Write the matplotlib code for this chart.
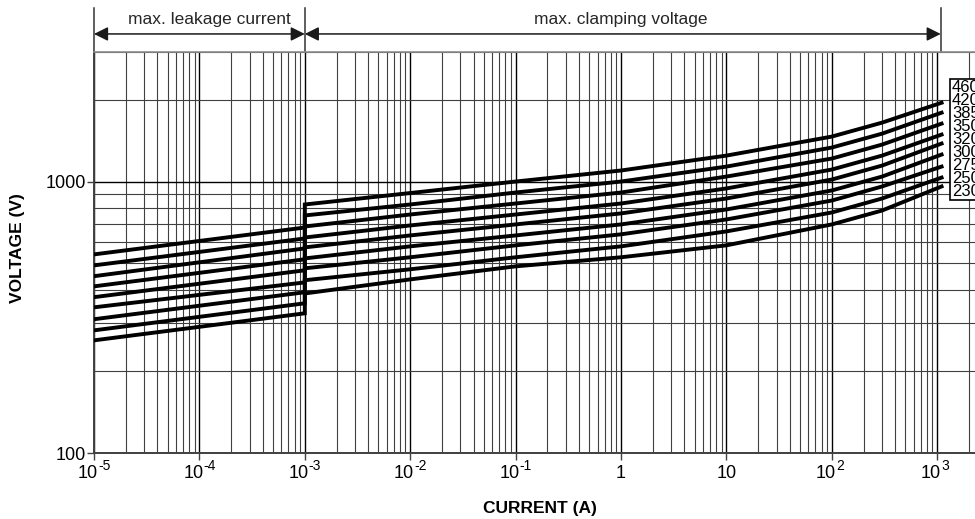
import numpy as np
import matplotlib as mpl
mpl.use("Agg")
import matplotlib.pyplot as plt
import matplotlib.transforms as mtrans
from matplotlib.patches import Rectangle

mpl.rcParams.update({
    "font.family": ["Liberation Sans", "DejaVu Sans"],
    "font.size": 12,
})

# varistor ratings, top curve first
RATINGS = ["460", "420", "385", "350", "320", "300", "275", "250", "230"]

# leakage region: 1e-5 A .. 1e-3 A
I_LEAK = [1e-5, 1e-3]
V_LEAK_START = [539, 491, 448, 411, 375, 344, 311, 283, 260]
V_LEAK_END = [677, 617, 567, 517, 471, 425, 391, 356, 327]

# clamping region
I_CLAMP = [1e-3, 1e-2, 1e-1, 1, 10, 100, 300, 1100]
V_CLAMP_460 = [823, 907, 1000, 1098, 1246, 1464, 1648, 1951]
V_CLAMP_420 = [750, 823, 911, 1000, 1135, 1334, 1501, 1793]
V_CLAMP_385 = [683, 756, 830, 911, 1043, 1215, 1368, 1634]
V_CLAMP_350 = [622, 689, 756, 830, 943, 1107, 1246, 1489]
V_CLAMP_320 = [572, 633, 695, 763, 866, 1017, 1145, 1380]
V_CLAMP_300 = [521, 577, 633, 695, 789, 927, 1043, 1257]
V_CLAMP_275 = [479, 526, 582, 639, 725, 851, 959, 1135]
V_CLAMP_250 = [433, 475, 526, 577, 655, 769, 866, 1034]
V_CLAMP_230 = [387, 436, 487, 526, 582, 695, 782, 959]
V_CLAMP = [V_CLAMP_460, V_CLAMP_420, V_CLAMP_385, V_CLAMP_350, V_CLAMP_320,
           V_CLAMP_300, V_CLAMP_275, V_CLAMP_250, V_CLAMP_230]

XTICKS = [1e-5, 1e-4, 1e-3, 1e-2, 1e-1, 1, 10, 1e2, 1e3]
XTICK_BASE = ["10", "10", "10", "10", "10", "1", "10", "10", "10"]
XTICK_EXP = ["-5", "-4", "-3", "-2", "-1", "", "", "2", "3"]
BOUNDS = [1e-5, 1e-3, 1.08e3]

W, H = 975, 519
fig = plt.figure(figsize=(W / 100, H / 100), dpi=100)
# axes run a little past the right edge of the picture (cropped original)
ax = fig.add_axes([94 / W, (H - 453) / H, (1010 - 94) / W, (453 - 52) / H])
ax.set_xscale("log"); ax.set_yscale("log")
ax.set_xlim(1e-5, 10 ** (-5 + (1010 - 94) / 105.4))
ax.set_ylim(100, 3000)

ax.grid(which="major", color="k", lw=1.0)
ax.grid(which="minor", color="0.25", lw=0.8)
ax.set_axisbelow(True)
for s in ["left", "bottom"]:
    ax.spines[s].set_color("0.25"); ax.spines[s].set_linewidth(1.4)
ax.spines["top"].set_color("0.55"); ax.spines["top"].set_linewidth(1.2)
ax.spines["right"].set_visible(False)

ax.set_xticks(XTICKS); ax.set_xticklabels([])
ax.set_yticks([100, 1000]); ax.set_yticklabels(["100", "1000"])
ax.xaxis.set_minor_locator(mpl.ticker.LogLocator(base=10, subs=np.arange(2, 10), numticks=20))
ax.yaxis.set_minor_locator(mpl.ticker.LogLocator(base=10, subs=np.arange(2, 10), numticks=20))
ax.xaxis.set_minor_formatter(mpl.ticker.NullFormatter())
ax.yaxis.set_minor_formatter(mpl.ticker.NullFormatter())
ax.tick_params(which="minor", length=0)
ax.tick_params(which="major", length=5, width=1, color="0.25", labelsize=13)
ax.tick_params(axis="y", pad=1)

trans = mtrans.blended_transform_factory(ax.transData, ax.transAxes)

# x tick labels: "10" plus a raised exponent, all on one baseline
for x, base, ex in zip(XTICKS, XTICK_BASE, XTICK_EXP):
    if ex:
        ax.annotate(base, (x, 0), xycoords=trans, xytext=(4, -25), textcoords="offset pixels",
                    ha="right", va="baseline", fontsize=13)
        ax.annotate(ex, (x, 0), xycoords=trans, xytext=(4, -17), textcoords="offset pixels",
                    ha="left", va="baseline", fontsize=10)
    else:
        ax.annotate(base, (x, 0), xycoords=trans, xytext=(0, -25), textcoords="offset pixels",
                    ha="center", va="baseline", fontsize=13)

for vs, ve, vc in zip(V_LEAK_START, V_LEAK_END, V_CLAMP):
    ax.plot(I_LEAK + I_CLAMP, [vs, ve] + vc, color="k", lw=2.8,
            solid_joinstyle="miter", zorder=3)

fig.text(540 / W, 1 - 508 / H, "CURRENT (A)", fontweight="bold", fontsize=12.5,
         ha="center", va="center")
fig.text(18 / W, 1 - 248 / H, "VOLTAGE (V)", rotation=90, fontweight="bold",
         fontsize=12.5, ha="center", va="center")

# top annotation: ranges with double arrows
for b in BOUNDS:
    ax.plot([b, b], [1.0, 1.11], transform=trans, color="0.2", lw=1.1, clip_on=False)
for a, b in zip(BOUNDS[:-1], BOUNDS[1:]):
    ax.annotate("", xy=(b, 1.045), xytext=(a, 1.045), xycoords=trans, textcoords=trans,
                arrowprops=dict(arrowstyle="<|-|>", color="0.1", lw=1.1,
                                mutation_scale=21, shrinkA=0, shrinkB=0))
ax.text(1.25e-4, 1.082, "max. leakage current", transform=trans, ha="center",
        va="center", fontsize=12.5, color="0.15")
ax.text(1.0, 1.082, "max. clamping voltage", transform=trans, ha="center",
        va="center", fontsize=12.5, color="0.15")

# rating labels box at right edge
fig.patches.append(Rectangle((950 / W, 1 - 200 / H), 0.1, 121 / H, transform=fig.transFigure,
                             facecolor="white", edgecolor="k", lw=1.2, zorder=5))
for i, r in enumerate(RATINGS):
    fig.text(952 / W, 1 - (87 + i * 13.1) / H, r, fontsize=12, ha="left",
             va="center", zorder=6)

fig.savefig("out.png", dpi=100)
